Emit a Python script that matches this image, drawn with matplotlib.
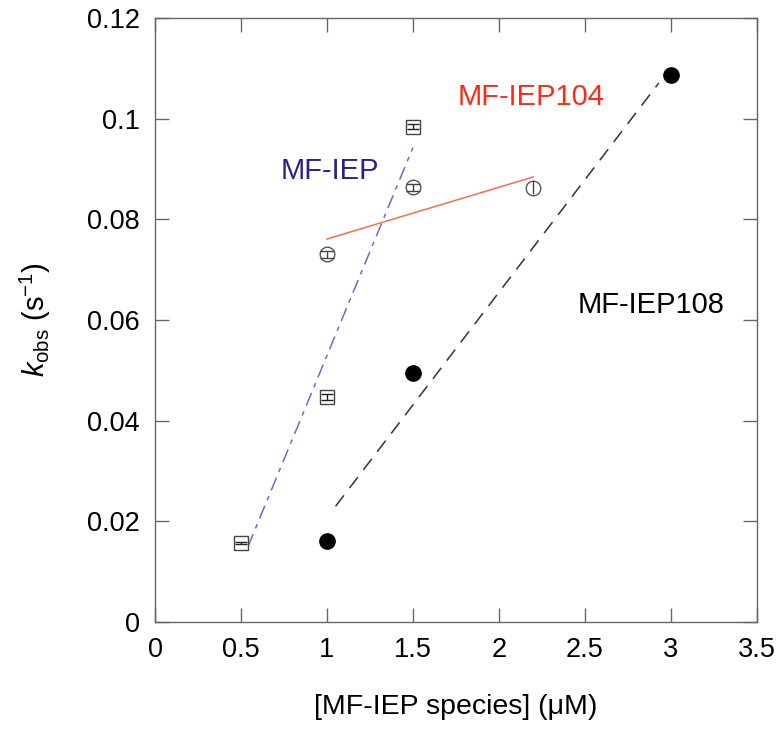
import matplotlib.pyplot as plt
import numpy as np

plt.rcParams["font.family"] = ["Liberation Sans", "DejaVu Sans"]
plt.rcParams["mathtext.fontset"] = "custom"
plt.rcParams["mathtext.rm"] = "Liberation Sans"
plt.rcParams["mathtext.it"] = "Liberation Sans:italic"

# MF-IEP (open squares)
X_IEP = [0.5, 1.0, 1.5]
Y_IEP = [0.0157, 0.0447, 0.0984]
E_IEP = [0.0002, 0.0006, 0.0005]

# MF-IEP104 (open circles)
X_104 = [1.0, 1.5, 2.2]
Y_104 = [0.0731, 0.0864, 0.0863]
E_104 = [0.0007, 0.0007, 0.0013]
CAPPED_104 = [True, True, False]  # last point: bar fills the circle, no caps seen

# MF-IEP108 (filled circles)
X_108 = [1.0, 1.5, 3.0]
Y_108 = [0.0160, 0.0494, 0.1087]

# x ranges of the fitted lines
FIT_IEP = [0.54, 1.5]
FIT_104 = [1.0, 2.2]
FIT_108 = [1.05, 2.93]

fig = plt.figure(figsize=(7.81, 7.31), dpi=100)
ax = fig.add_axes([0.1985, 0.1495, 0.7705, 0.8255])

def fit_line(xs, ys, xr):
    m, b = np.polyfit(xs, ys, 1)
    xr = np.array(xr)
    return xr, m * xr + b

# fitted lines
lx, ly = fit_line(X_IEP, Y_IEP, FIT_IEP)
ax.plot(lx, ly, color="#7565c8", lw=1.1, dashes=(9, 4, 3, 4), zorder=2)
lx, ly = fit_line(X_104, Y_104, FIT_104)
ax.plot(lx, ly, color="#ff6a4a", lw=1.1, zorder=2)
lx, ly = fit_line(X_108, Y_108, FIT_108)
ax.plot(lx, ly, color="#333333", lw=1.1, dashes=(9, 6), zorder=2)

# data: markers first, error bars drawn on top
ax.plot(X_IEP, Y_IEP, "s", ms=10, mfc="white", mec="#444444", mew=1.0, zorder=3)
ax.errorbar(X_IEP, Y_IEP, yerr=E_IEP, fmt="none", ecolor="#222222",
            elinewidth=1, capsize=4, zorder=4)
ax.plot(X_104, Y_104, "o", ms=10.5, mfc="white", mec="#555555", mew=1.0, zorder=3)
for xv, yv, ev, cap in zip(X_104, Y_104, E_104, CAPPED_104):
    ax.errorbar([xv], [yv], yerr=[ev], fmt="none", ecolor="#444444",
                elinewidth=1, capsize=5 if cap else 0, zorder=4)
ax.plot(X_108, Y_108, "o", ms=11, color="black", zorder=3)

# labels
ax.text(0.73, 0.0880, "MF-IEP", color="#2e1e8e", fontsize=21)
ax.text(1.76, 0.1028, "MF-IEP104", color="#ff2a10", fontsize=21)
ax.text(2.46, 0.0614, "MF-IEP108", color="black", fontsize=21)

ax.set_xlim(0, 3.5)
ax.set_ylim(0, 0.12)
ax.set_xticks(np.arange(0, 3.51, 0.5))
ax.set_xticklabels(["0", "0.5", "1", "1.5", "2", "2.5", "3", "3.5"])
ax.set_yticks(np.arange(0, 0.121, 0.02))
ax.set_yticklabels(["0", "0.02", "0.04", "0.06", "0.08", "0.1", "0.12"])

for s in ax.spines.values():
    s.set_color("#666666")
    s.set_linewidth(1.0)
ax.tick_params(direction="in", length=10, width=1, color="#666666",
               top=True, right=True, labelsize=19.5, pad=11, labelcolor="black")

ax.set_xlabel("[MF-IEP species] (μM)", fontsize=20.5, labelpad=22)
ax.set_ylabel(r"$k_{\mathrm{obs}}$ (s$^{\mathrm{-1}}$)", fontsize=21, labelpad=24)

fig.savefig("out.png", dpi=100)
